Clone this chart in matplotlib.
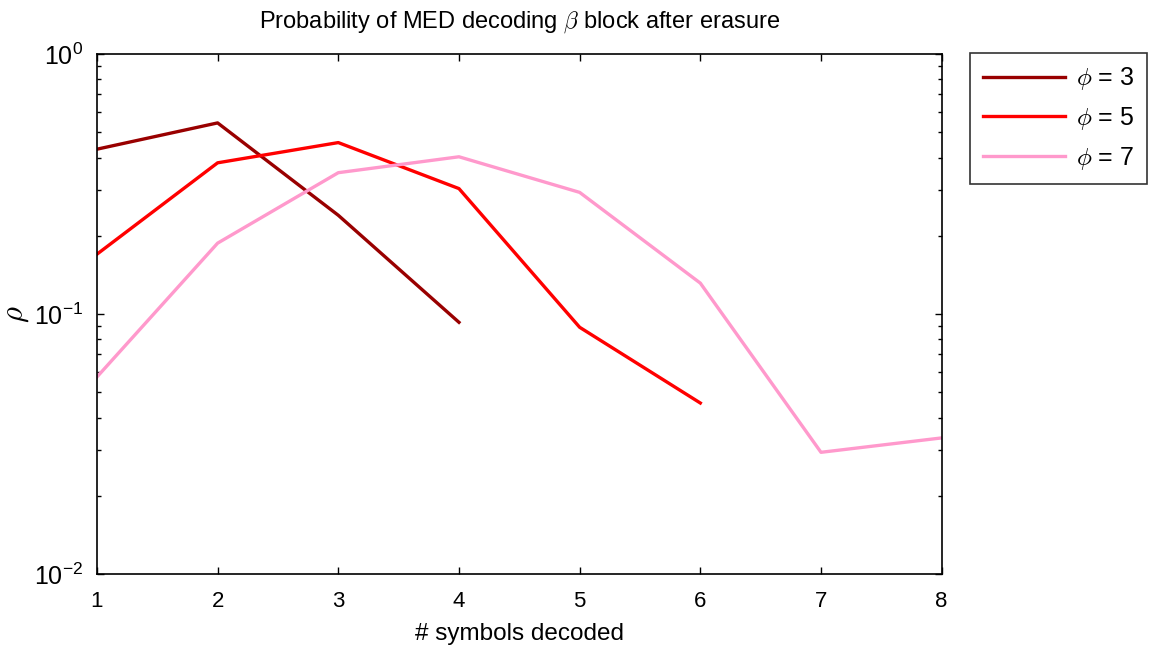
import matplotlib.pyplot as plt
from matplotlib.ticker import LogLocator, NullFormatter, FixedLocator

# Symbols decoded on the x-axis
symbols = [1, 2, 3, 4, 5, 6, 7, 8]

# Probability curves
rho_phi3 = [0.431, 0.544, 0.240, 0.093]
rho_phi5 = [0.170, 0.382, 0.457, 0.304, 0.089, 0.0455]
rho_phi7 = [0.0573, 0.1875, 0.350, 0.403, 0.294, 0.1316, 0.0294, 0.0334]

series_labels = [r'$\phi$ = 3', r'$\phi$ = 5', r'$\phi$ = 7']
series_colors = ['#990000', '#ff0000', '#ff99cc']

y_ticks = [1e-2, 1e-1, 1e0]
y_ticklabels = [r'$\mathregular{10^{-2}}$', r'$\mathregular{10^{-1}}$', r'$\mathregular{10^{0}}$']

plt.rcParams['font.family'] = ['Liberation Sans', 'DejaVu Sans']
plt.rcParams['mathtext.fontset'] = 'cm'

fig = plt.figure(figsize=(11.54, 6.45), dpi=100)
ax = fig.add_axes([0.084, 0.110, 0.732, 0.806])

ax.plot(symbols[:len(rho_phi3)], rho_phi3, color=series_colors[0], lw=2.4, label=series_labels[0])
ax.plot(symbols[:len(rho_phi5)], rho_phi5, color=series_colors[1], lw=2.4, label=series_labels[1])
ax.plot(symbols[:len(rho_phi7)], rho_phi7, color=series_colors[2], lw=2.4, label=series_labels[2])

ax.set_yscale('log')
ax.set_xlim(1, 8)
ax.set_ylim(1e-2, 1e0)
ax.set_xticks(symbols)
ax.yaxis.set_major_locator(FixedLocator(y_ticks))
ax.set_yticklabels(y_ticklabels)
ax.yaxis.set_minor_locator(LogLocator(base=10, subs=range(2, 10), numticks=20))
ax.yaxis.set_minor_formatter(NullFormatter())

ax.tick_params(which='both', direction='in', top=True, right=True, labelsize=16)
ax.tick_params(axis='x', pad=12)
ax.tick_params(axis='y', pad=10, labelsize=18)
ax.tick_params(which='major', length=5, width=1)
ax.tick_params(which='minor', length=3, width=1)
for spine in ax.spines.values():
    spine.set_linewidth(1.2)

ax.set_title(r'Probability of MED decoding $\beta$ block after erasure', fontsize=17, pad=19)
ax.set_xlabel('# symbols decoded', fontsize=17.5, labelpad=8)
ax.set_ylabel(r'$\rho$', fontsize=22, labelpad=2)

leg = ax.legend(loc='upper left', bbox_to_anchor=(970 / 1154, 1 - 53 / 645),
                bbox_transform=fig.transFigure, fontsize=18, frameon=True,
                fancybox=False, edgecolor='black', handlelength=3.3,
                borderpad=0.5, labelspacing=0.5, borderaxespad=0,
                handletextpad=0.45)
leg.get_frame().set_linewidth(1.2)

fig.savefig('out.png', dpi=100)
